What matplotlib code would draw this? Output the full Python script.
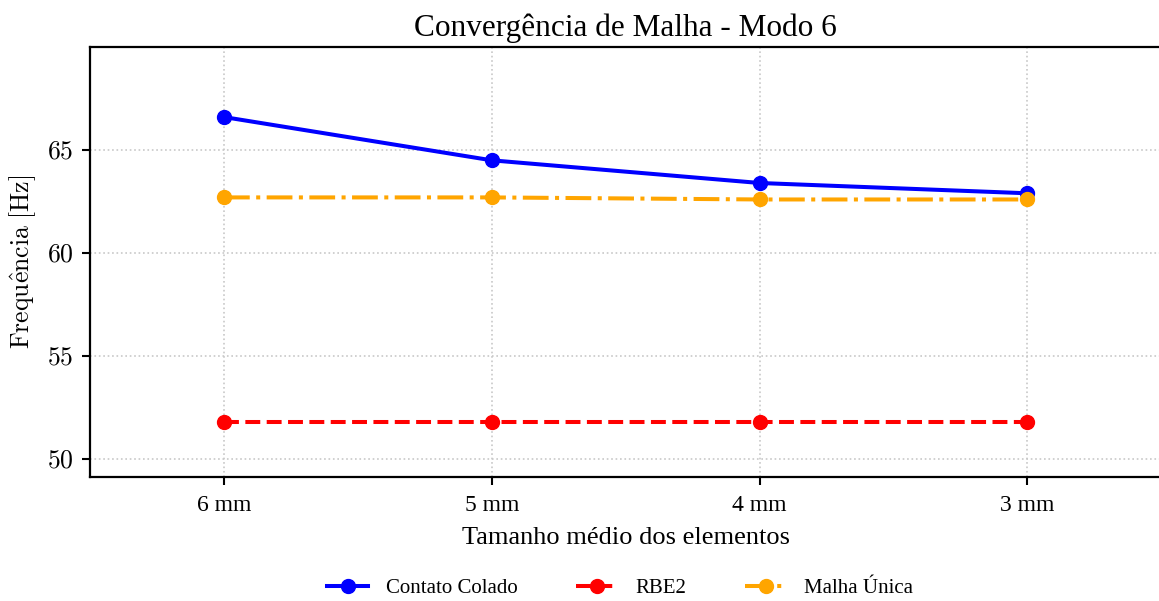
import matplotlib
matplotlib.use("Agg")
import matplotlib.pyplot as plt
from matplotlib.ticker import FuncFormatter

# Mesh sizes and frequency results for mode 6
malhas = ["6 mm", "5 mm", "4 mm", "3 mm"]
contato_colado = [66.6, 64.5, 63.4, 62.9]
rbe2 = [51.8, 51.8, 51.8, 51.8]
malha_unica = [62.7, 62.7, 62.6, 62.6]

plt.rcParams["mathtext.fontset"] = "cm"
plt.rcParams["font.family"] = ["Liberation Serif", "DejaVu Serif"]

fig = plt.figure(figsize=(11.59, 6.01), dpi=100)
ax = fig.add_axes([0.0777, 0.2063, 0.9243, 0.7155])

x = list(range(len(malhas)))
ax.plot(x, contato_colado, "-", color="blue", lw=2.9, marker="o", ms=10,
        label="Contato Colado")
ax.plot(x, rbe2, "--", color="red", lw=2.9, marker="o", ms=10, label="RBE2")
ax.plot(x, malha_unica, "-.", color="orange", lw=2.9, marker="o", ms=10,
        label="Malha Única")

ax.set_xlim(-0.5, 3.5)
ax.set_ylim(49.13, 70.0)
ax.set_xticks(x)
ax.set_xticklabels(malhas, fontsize=17)
ax.set_yticks([50, 55, 60, 65])
ax.yaxis.set_major_formatter(FuncFormatter(lambda v, p: f"${v:.0f}$"))
ax.tick_params(axis="y", labelsize=18.5, pad=6)
ax.tick_params(axis="x", pad=7)

ax.grid(True, linestyle=":", color="#c8c8c8", lw=1.2)
ax.set_axisbelow(True)
for s in ax.spines.values():
    s.set_linewidth(1.6)
ax.spines["right"].set_visible(False)
ax.tick_params(width=1.5, length=6)

ax.set_title("Convergência de Malha - Modo 6", fontsize=22.5, pad=8)
ax.set_xlabel("Tamanho médio dos elementos", fontsize=19, labelpad=8)
ax.set_ylabel(r"$\mathrm{Frequ\hat{e}ncia\ [Hz]}$", fontsize=18.5, labelpad=6)

fig.legend(loc="center", bbox_to_anchor=(620 / 1159, 1 - 588 / 601),
           ncol=3, frameon=False, fontsize=15, handlelength=2.0,
           handletextpad=0.85, columnspacing=2.8)

fig.savefig("out.png", dpi=100)
